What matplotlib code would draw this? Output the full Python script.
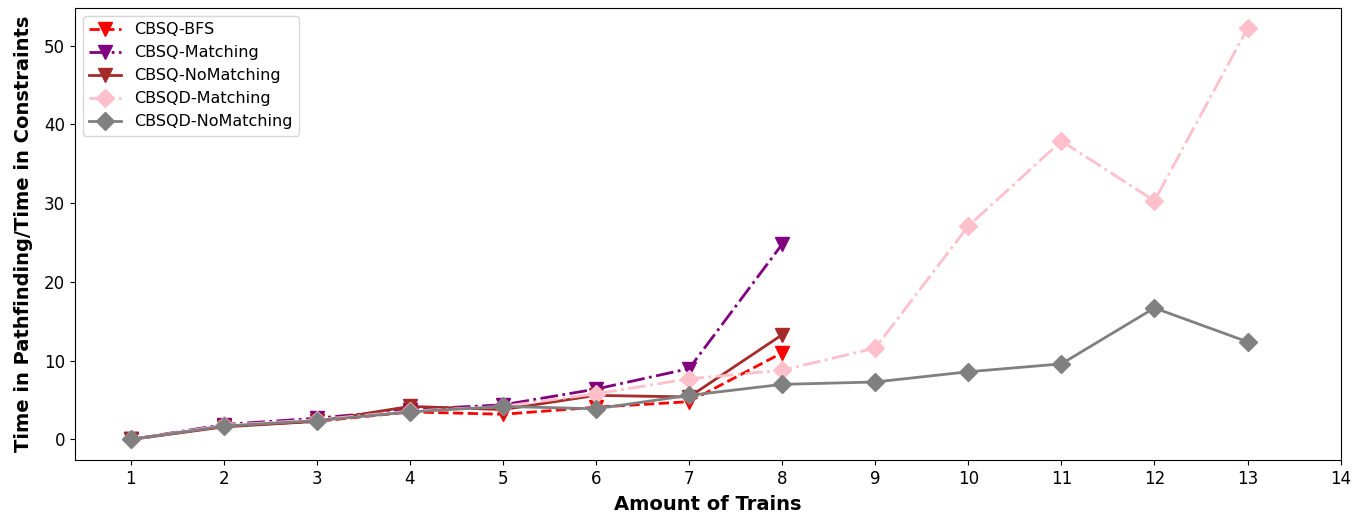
import matplotlib
matplotlib.use("Agg")
import matplotlib.pyplot as plt

trains_q = [1, 2, 3, 4, 5, 6, 7, 8]
trains_qd = [1, 2, 3, 4, 5, 6, 7, 8, 9, 10, 11, 12, 13]

cbsq_bfs = [0.0, 1.7, 2.3, 3.5, 3.2, 4.1, 4.8, 11.0]
cbsq_matching = [0.0, 1.9, 2.7, 3.8, 4.4, 6.4, 9.0, 24.8]
cbsq_nomatching = [0.0, 1.6, 2.3, 4.2, 3.8, 5.6, 5.4, 13.3]
cbsqd_matching = [0.0, 1.8, 2.5, 3.6, 4.2, 5.8, 7.7, 8.8, 11.6, 27.1, 37.9, 30.3, 52.2]
cbsqd_nomatching = [0.0, 1.7, 2.4, 3.5, 4.2, 3.9, 5.6, 7.0, 7.3, 8.6, 9.6, 16.7, 12.4]

xticks = list(range(1, 15))

fig, ax = plt.subplots(figsize=(13.61, 5.21), dpi=100)

ax.plot(trains_q, cbsq_bfs, color="red", linestyle="--", marker="v",
        markersize=10, linewidth=2, label="CBSQ-BFS")
ax.plot(trains_q, cbsq_matching, color="purple", linestyle="-.", marker="v",
        markersize=10, linewidth=2, label="CBSQ-Matching")
ax.plot(trains_q, cbsq_nomatching, color="brown", linestyle="-", marker="v",
        markersize=10, linewidth=2, label="CBSQ-NoMatching")
ax.plot(trains_qd, cbsqd_matching, color="pink", linestyle="-.", marker="D",
        markersize=9, linewidth=2, label="CBSQD-Matching")
ax.plot(trains_qd, cbsqd_nomatching, color="gray", linestyle="-", marker="D",
        markersize=9, linewidth=2, label="CBSQD-NoMatching")

ax.set_xticks(xticks)
ax.tick_params(labelsize=12)
ax.set_xlabel("Amount of Trains", fontsize=14, fontweight="bold", labelpad=5)
ax.set_ylabel("Time in Pathfinding/Time in Constraints", fontsize=14,
              fontweight="bold", labelpad=8)
ax.legend(loc="upper left", fontsize=11.5)

fig.subplots_adjust(left=0.055, right=0.985, top=0.985, bottom=0.117)
fig.savefig("out.png", dpi=100)
